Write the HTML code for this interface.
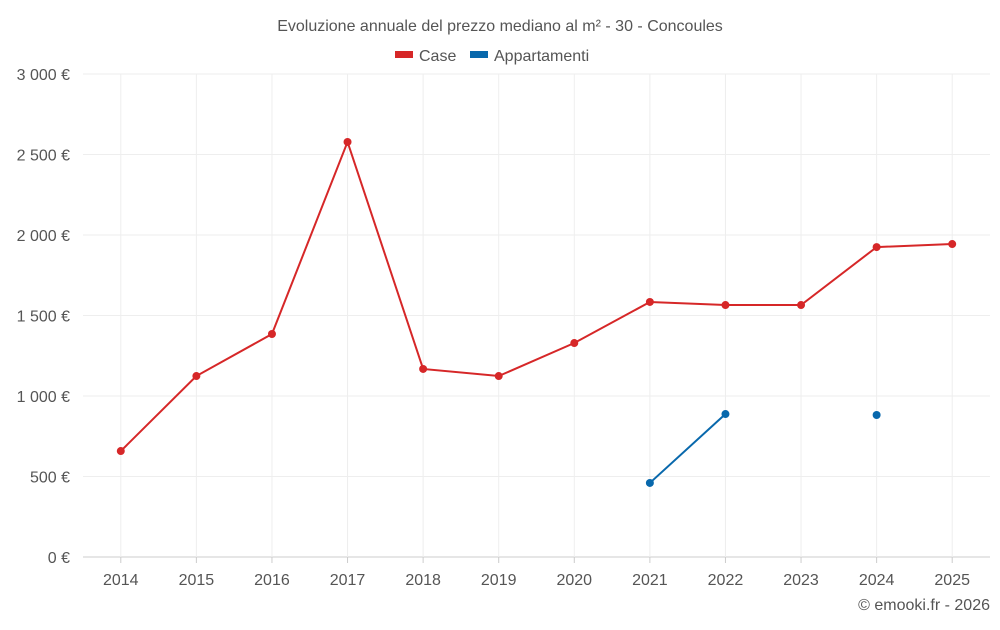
<!DOCTYPE html>
<html><head><meta charset="utf-8"><style>
body{margin:0;background:#fff;font-family:"Liberation Sans",sans-serif;}
svg text{font-family:"Liberation Sans",sans-serif;}
</style></head><body>
<svg id="chart" width="1000" height="625">
<text x="500" y="31" text-anchor="middle" font-size="16" fill="#555">Evoluzione annuale del prezzo mediano al m² - 30 - Concoules</text>
<g>
<g><rect x="395" y="51" width="18" height="7" fill="#d62728"/><text x="419" y="61" font-size="16" fill="#555">Case</text></g>
<g><rect x="470" y="51" width="18" height="7" fill="#0868ac"/><text x="494" y="61" font-size="16" fill="#555">Appartamenti</text></g>
</g>
<g id="grid"></g><g id="axes"></g><g id="series"></g>
<text x="990" y="610" text-anchor="end" font-size="16" fill="#555">© emooki.fr - 2026</text>
</svg>
<script>
const categories=["2014","2015","2016","2017","2018","2019","2020","2021","2022","2023","2024","2025"];
const caseValues=[658,1124,1385,2578,1168,1124,1329,1584,1565,1565,1925,1944];
const apptValues=[null,null,null,null,null,null,null,460,888,null,882,null];
const yTicks=[0,500,1000,1500,2000,2500,3000];
const yTickLabels=["0 €","500 €","1 000 €","1 500 €","2 000 €","2 500 €","3 000 €"];
const L=83,R=990,T=74,B=557,yMax=3000;
const bw=(R-L)/categories.length;
const x=i=>L+bw*(i+0.5);
const y=v=>B-(v/yMax)*(B-T);
const NS="http://www.w3.org/2000/svg";
function mk(tag,attrs,parent){const e=document.createElementNS(NS,tag);for(const k in attrs)e.setAttribute(k,attrs[k]);document.getElementById(parent).appendChild(e);return e;}
yTicks.forEach((t,i)=>{
 const g=mk("line",{x1:L,x2:R,y1:y(t),y2:y(t),stroke:t===0?"#ccc":"#eee"},"grid");
 
 
 const tx=mk("text",{x:70,y:y(t)+6,"text-anchor":"end","font-size":"16",fill:"#555"},"axes");
 tx.textContent=yTickLabels[i];
 
 
});
categories.forEach((c,i)=>{
 const g=mk("line",{x1:x(i),x2:x(i),y1:T,y2:B,stroke:"#eee"},"grid");
 
 
 const tk=mk("line",{x1:x(i),x2:x(i),y1:B,y2:B+6,stroke:"#ccc"},"axes");
 
 
 const tx=mk("text",{x:x(i),y:585,"text-anchor":"middle","font-size":"16",fill:"#555"},"axes");
 tx.textContent=c;
 
 
});
function series(vals,color,name){
 let seg=[];const segs=[];
 vals.forEach((v,i)=>{if(v==null){if(seg.length)segs.push(seg);seg=[];}else seg.push([x(i),y(v)]);});
 if(seg.length)segs.push(seg);
 segs.forEach(s=>{if(s.length>1){const p=mk("polyline",{points:s.map(q=>q.join(",")).join(" "),fill:"none",stroke:color,"stroke-width":2},"series");
 
 }});
 vals.forEach((v,i)=>{if(v==null)return;const c=mk("circle",{cx:x(i),cy:y(v),r:4,fill:color},"series");
 
 });
}
series(caseValues,"#d62728","case");
series(apptValues,"#0868ac","appartamenti");
</script>
</body></html>
